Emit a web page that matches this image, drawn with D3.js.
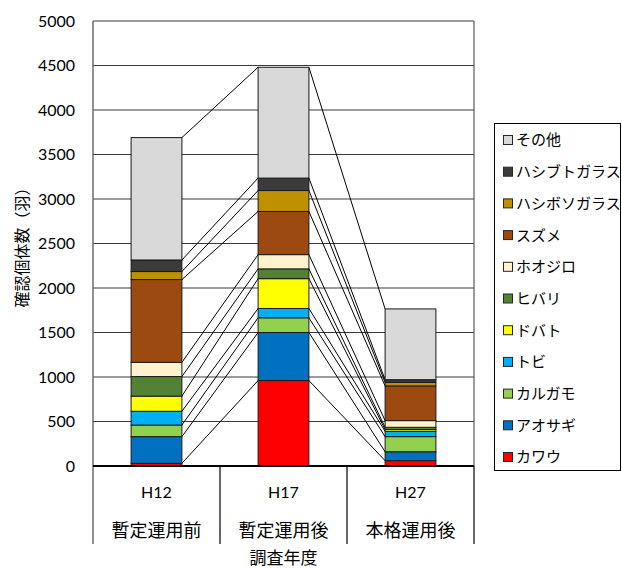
<!DOCTYPE html>
<html lang="ja">
<head>
<meta charset="utf-8">
<script src="https://cdn.jsdelivr.net/npm/d3@7"></script>
<style>
  html, body { margin: 0; padding: 0; background: #fff; }
  svg { display: block; }
  .num { font-family: Lato, "Open Sans", sans-serif; }
  .jp { font-family: "Noto Sans CJK JP", "Noto Sans", sans-serif; }
</style>
</head>
<body>
<svg id="chart" width="622" height="568"></svg>
<script>
// Survey years and operating phases
const years = ["H12", "H17", "H27"];
const phases = ["暫定運用前", "暫定運用後", "本格運用後"];

// Species, stacked bottom to top
const species = ["カワウ", "アオサギ", "カルガモ", "トビ", "ドバト", "ヒバリ",
                 "ホオジロ", "スズメ", "ハシボソガラス", "ハシブトガラス", "その他"];
const speciesColors = ["#FF0000", "#0070C0", "#92D050", "#00B0F0", "#FFFF00", "#548235",
                       "#FFF2CC", "#9C4A10", "#BF9000", "#3B3B3B", "#D9D9D9"];

// Counted individuals per species, one array per survey year
const countsH12 = [30, 300, 130, 155, 170, 220, 160, 930, 90, 130, 1375];
const countsH17 = [960, 540, 165, 105, 335, 110, 160, 485, 235, 140, 1245];
const countsH27 = [60, 100, 170, 60, 20, 25, 75, 390, 40, 30, 795];

const yTicks = [0, 500, 1000, 1500, 2000, 2500, 3000, 3500, 4000, 4500, 5000];

const counts = [countsH12, countsH17, countsH27];
const rows = years.map((yr, i) => {
  const row = { year: yr };
  species.forEach((s, j) => { row[s] = counts[i][j]; });
  return row;
});

const svg = d3.select("#chart");
const plotLeft = 93, plotRight = 474, plotTop = 21, plotBottom = 466, catBottom = 544;

const x = d3.scaleBand().domain(years).range([plotLeft, plotRight])
  .paddingInner(0.6).paddingOuter(0.3);
const y = d3.scaleLinear().domain([0, 5000]).range([plotBottom, plotTop]);
const color = d3.scaleOrdinal().domain(species).range(speciesColors);

const stacked = d3.stack().keys(species)(rows);

// Horizontal gridlines
svg.append("g").selectAll("line")
  .data(yTicks.filter(v => v > 0))
  .join("line")
  .attr("x1", plotLeft).attr("x2", plotRight)
  .attr("y1", d => y(d)).attr("y2", d => y(d))
  .attr("stroke", "#3a3a3a").attr("stroke-width", 1.2);

// Right border of the plot area
svg.append("line")
  .attr("x1", plotRight).attr("x2", plotRight).attr("y1", y(5000)).attr("y2", plotBottom)
  .attr("stroke", "#595959").attr("stroke-width", 1.2);

// Series lines joining the top of each segment between neighbouring bars
const seriesLines = [];
stacked.forEach(layer => {
  for (let i = 0; i < layer.length - 1; i++) {
    seriesLines.push({
      x1: x(years[i]) + x.bandwidth(), y1: y(layer[i][1]),
      x2: x(years[i + 1]), y2: y(layer[i + 1][1])
    });
  }
});
svg.append("g").selectAll("line").data(seriesLines).join("line")
  .attr("x1", d => d.x1).attr("y1", d => d.y1)
  .attr("x2", d => d.x2).attr("y2", d => d.y2)
  .attr("stroke", "#000").attr("stroke-width", 1);

// Stacked bars
svg.append("g").selectAll("g").data(stacked).join("g")
  .attr("fill", d => color(d.key))
  .selectAll("rect").data(d => d).join("rect")
  .attr("x", d => x(d.data.year))
  .attr("width", x.bandwidth())
  .attr("y", d => y(d[1]))
  .attr("height", d => y(d[0]) - y(d[1]))
  .attr("stroke", "#1a1a1a").attr("stroke-width", 1);

// Y axis labels
const yAxis = d3.axisLeft(y).tickValues(yTicks).tickSize(0).tickPadding(18)
  .tickFormat(d3.format("d"));
svg.append("g").attr("transform", `translate(${plotLeft},0)`).call(yAxis)
  .call(g => g.select(".domain").remove())
  .selectAll("text")
  .attr("class", "num").attr("font-size", 16).attr("fill", "#000");

// Left axis line running down through the category area
svg.append("line")
  .attr("x1", plotLeft).attr("x2", plotLeft).attr("y1", y(5000)).attr("y2", catBottom)
  .attr("stroke", "#6b6b6b").attr("stroke-width", 1.5);

// Baseline
svg.append("line")
  .attr("x1", plotLeft).attr("x2", plotRight).attr("y1", plotBottom).attr("y2", plotBottom)
  .attr("stroke", "#000").attr("stroke-width", 2);

// Category separators below the baseline
const gap = (x.step() - x.bandwidth()) / 2;
const bounds = years.map(c => x(c) - gap).concat([x(years[years.length - 1]) + x.bandwidth() + gap]);
svg.append("g").selectAll("line").data(bounds.slice(1)).join("line")
  .attr("x1", d => d).attr("x2", d => d)
  .attr("y1", plotBottom).attr("y2", catBottom)
  .attr("stroke", "#000").attr("stroke-width", 1.2);

// Category labels: year and phase
svg.append("g").selectAll("text").data(years).join("text")
  .attr("class", "num")
  .attr("x", d => x(d) + x.bandwidth() / 2).attr("y", 498)
  .attr("text-anchor", "middle").attr("font-size", 16).text(d => d);
svg.append("g").selectAll("text").data(phases).join("text")
  .attr("class", "jp")
  .attr("x", (d, i) => x(years[i]) + x.bandwidth() / 2).attr("y", 537)
  .attr("text-anchor", "middle").attr("font-size", 18).text(d => d);

// Axis titles
svg.append("text").attr("class", "jp")
  .attr("x", (plotLeft + plotRight) / 2).attr("y", 564)
  .attr("text-anchor", "middle").attr("font-size", 17).text("調査年度");
svg.append("text").attr("class", "jp")
  .attr("transform", `translate(28,${(plotTop + plotBottom) / 2}) rotate(-90)`)
  .attr("text-anchor", "middle").attr("font-size", 16).text("確認個体数（羽）");

// Legend, top entry is the top of the stack
const legend = svg.append("g");
legend.append("rect")
  .attr("x", 494.5).attr("y", 123.5).attr("width", 126).attr("height", 347)
  .attr("fill", "#fff").attr("stroke", "#000").attr("stroke-width", 1);
const legendItems = species.slice().reverse();
const item = legend.selectAll("g.item").data(legendItems).join("g")
  .attr("class", "item")
  .attr("transform", (d, i) => `translate(0,${140 + i * 31.7})`);
item.append("rect")
  .attr("x", 503.5).attr("y", -4.5).attr("width", 9).attr("height", 9)
  .attr("fill", d => color(d)).attr("stroke", "#262626").attr("stroke-width", 1);
item.append("text").attr("class", "jp")
  .attr("x", 516).attr("y", 0).attr("dy", "0.36em")
  .attr("font-size", 15).text(d => d);
</script>
</body>
</html>
